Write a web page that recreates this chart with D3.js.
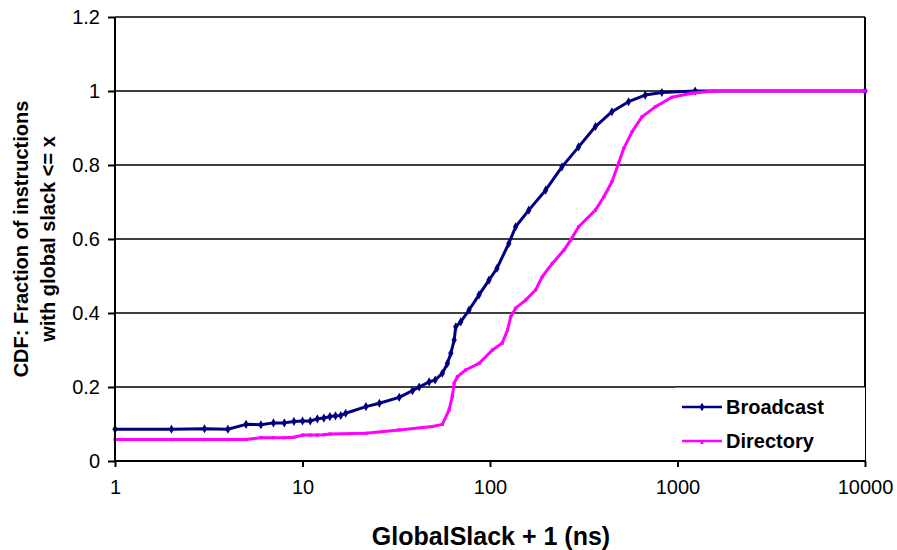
<!DOCTYPE html>
<html><head><meta charset="utf-8">
<script src="https://cdn.jsdelivr.net/npm/d3@7"></script>
<style>body{margin:0;background:#fff}svg{display:block}text{font-family:"Liberation Sans",Arial,sans-serif}</style>
</head><body>
<svg id="c" width="897" height="550"></svg>
<script>
const xTicks = [1, 10, 100, 1000, 10000];
const yTicks = [0, 0.2, 0.4, 0.6, 0.8, 1, 1.2];
const seriesNames = ["Broadcast", "Directory"];
const broadcastX = [1,2,3,4,5,6,7,8,9,10,11,12,13,14,15,16,17,21.8,25.7,32.8,38.6,41.9,47.4,51,55.7,59.3,61.8,64.4,65.7,69.8,77.3,87.4,98.8,109,126,137,161,198,242,297,365,447,548,673,825,1242,10000];
const broadcastY = [0.086,0.086,0.087,0.086,0.099,0.098,0.103,0.103,0.107,0.108,0.108,0.114,0.116,0.12,0.122,0.123,0.129,0.147,0.156,0.172,0.19,0.2,0.214,0.219,0.237,0.264,0.291,0.327,0.363,0.376,0.408,0.449,0.489,0.521,0.588,0.633,0.678,0.732,0.795,0.849,0.904,0.944,0.971,0.989,0.996,1.0,1.0];
const directoryX = [1,2,3,4,5,6,7,8,9,10,11,12,13,14,21.8,32.8,49.2,55.7,60.5,62.9,64.4,67,74.2,87.4,103,116,124,129,137,155,175,190,215,248,269,297,365,405,447,485,517,573,646,761,933,1191,1553,10000];
const directoryY = [0.058,0.058,0.058,0.058,0.058,0.063,0.063,0.063,0.064,0.07,0.07,0.07,0.071,0.073,0.075,0.084,0.093,0.099,0.138,0.174,0.21,0.228,0.246,0.264,0.3,0.318,0.354,0.39,0.413,0.435,0.462,0.498,0.534,0.57,0.597,0.633,0.678,0.714,0.755,0.805,0.845,0.89,0.93,0.957,0.983,0.994,1.0,1.0];

const svg = d3.select("#c");
const L = 115, R = 865, T = 17, B = 461;
const x = d3.scaleLog().domain([1, 10000]).range([L, R]);
const y = d3.scaleLinear().domain([0, 1.2]).range([B, T]);

// gridlines
svg.append("g").selectAll("line").data(yTicks.filter(d => d > 0)).join("line")
  .attr("x1", L).attr("x2", R).attr("y1", d => y(d)).attr("y2", d => y(d))
  .attr("stroke", "#000").attr("stroke-width", 1.6);
// right border
svg.append("line").attr("x1", R).attr("x2", R).attr("y1", T).attr("y2", B)
  .attr("stroke", "#000").attr("stroke-width", 2);

const series = [
  {name: seriesNames[0], xs: broadcastX, ys: broadcastY, color: "#000080", marker: "diamond"},
  {name: seriesNames[1], xs: directoryX, ys: directoryY, color: "#FF00FF", marker: "square"}
];
const line = d3.line().x(d => x(d[0])).y(d => y(d[1]));
series.forEach(s => {
  const pts = s.xs.map((v, i) => [v, s.ys[i]]);
  const g = svg.append("g");
  g.append("path").datum(pts).attr("d", line).attr("fill", "none")
    .attr("stroke", s.color).attr("stroke-width", 3).attr("stroke-linejoin", "round");
  const sym = s.marker === "diamond" ? d3.symbol(d3.symbolDiamond, 24) : d3.symbol(d3.symbolSquare, 10);
  g.selectAll("path.m").data(pts).join("path").attr("class", "m")
    .attr("d", sym).attr("transform", d => `translate(${x(d[0])},${y(d[1])})`)
    .attr("fill", s.color);
});

// legend
const lx0 = 675;
svg.append("rect").attr("x", lx0).attr("y", y(0.2)).attr("width", R - lx0).attr("height", B - y(0.2))
  .attr("fill", "#fff");
svg.append("line").attr("x1", lx0).attr("x2", R).attr("y1", y(0.2)).attr("y2", y(0.2))
  .attr("stroke", "#000").attr("stroke-width", 1);
series.forEach((s, i) => {
  const ly = 407 + i * 34;
  svg.append("line").attr("x1", 682).attr("x2", 722).attr("y1", ly).attr("y2", ly)
    .attr("stroke", s.color).attr("stroke-width", 2.5);
  const sym = s.marker === "diamond" ? d3.symbol(d3.symbolDiamond, 22) : d3.symbol(d3.symbolSquare, 9);
  svg.append("path").attr("d", sym).attr("transform", `translate(702,${ly + (i ? 1.5 : 0)})`).attr("fill", s.color);
  svg.append("text").attr("x", 726).attr("y", ly).attr("dy", "0.36em")
    .attr("font-size", 20).attr("font-weight", "bold").text(s.name);
});

// axes
const xAxis = d3.axisBottom(x).tickValues(xTicks).tickSize(6).tickPadding(13).tickFormat(d3.format("d"));
const gx = svg.append("g").attr("transform", `translate(0,${B})`).call(xAxis);
gx.select(".domain").attr("stroke-width", 2).attr("d", `M${L},0H${R}`);
gx.selectAll(".tick line").attr("stroke-width", 2);
gx.selectAll(".tick text").attr("font-size", 20).attr("font-family", "Liberation Sans, Arial, sans-serif").attr("fill", "#000");

const yAxis = d3.axisLeft(y).tickValues(yTicks).tickSize(7).tickPadding(8).tickFormat(d => d3.format("~g")(d));
const gy = svg.append("g").attr("transform", `translate(${L},0)`).call(yAxis);
gy.select(".domain").attr("stroke-width", 2).attr("d", `M0,${B}V${T}`);
gy.selectAll(".tick line").attr("stroke-width", 2);
gy.selectAll(".tick text").attr("font-size", 20).attr("font-family", "Liberation Sans, Arial, sans-serif").attr("fill", "#000");

// titles
svg.append("text").attr("x", (L + R) / 2 + 1).attr("y", 545).attr("text-anchor", "middle")
  .attr("font-size", 25).attr("font-weight", "bold").text("GlobalSlack + 1 (ns)");
const yt = svg.append("text").attr("transform", `translate(0,${(T + B) / 2}) rotate(-90)`)
  .attr("text-anchor", "middle").attr("font-size", 20).attr("font-weight", "bold");
yt.append("tspan").attr("x", 0).attr("y", 28).text("CDF: Fraction of instructions");
yt.append("tspan").attr("x", 0).attr("y", 55).text("with global slack <= x");
</script>
</body></html>
